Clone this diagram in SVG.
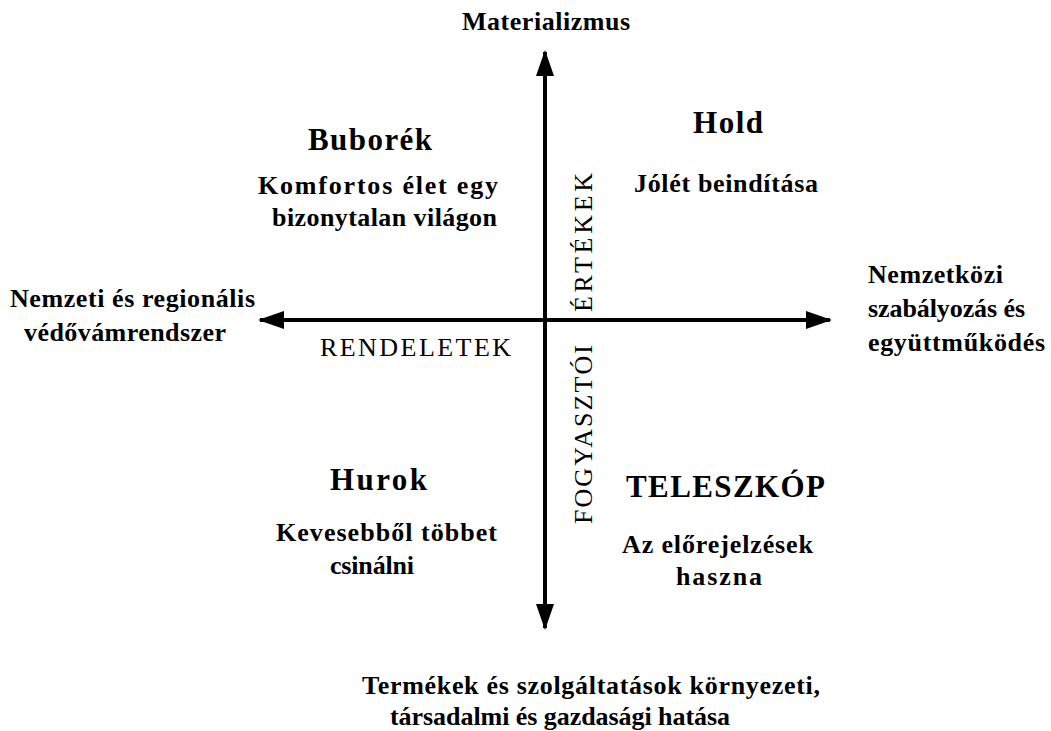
<svg xmlns="http://www.w3.org/2000/svg" width="1051" height="731" viewBox="0 0 1051 731">
<defs>
<style>
text{font-family:"Liberation Serif","Times New Roman",serif;fill:#000}
.t{font-size:31px;font-weight:bold}
.b{font-size:26px;font-weight:bold}
.a{font-size:26px}
.ax{stroke:#000;stroke-width:4;fill:none}
</style>
<marker id="ah" viewBox="0 0 26 18" refX="24" refY="9" markerWidth="26" markerHeight="18" markerUnits="userSpaceOnUse" orient="auto">
<path d="M0,0 L26,9 L0,18 Z" fill="#000"/>
</marker>
</defs>
<rect width="1051" height="731" fill="#fff"/>
<g id="connectors">
<line class="ax" x1="545" y1="330" x2="545" y2="52" marker-end="url(#ah)"/>
<line class="ax" x1="545" y1="310" x2="545" y2="628" marker-end="url(#ah)"/>
<line class="ax" x1="555" y1="320" x2="260" y2="320" marker-end="url(#ah)"/>
<line class="ax" x1="535" y1="320" x2="830" y2="320" marker-end="url(#ah)"/>
</g>
<g id="top-label"><text class="b" x="462" y="30" textLength="168">Materializmus</text></g>
<g id="bottom-label">
<text class="b" x="362" y="694" textLength="458">Termékek és szolgáltatások környezeti,</text>
<text class="b" x="390" y="725" textLength="340">társadalmi és gazdasági hatása</text>
</g>
<g id="left-label">
<text class="b" x="10" y="307" textLength="245">Nemzeti és regionális</text>
<text class="b" x="24" y="341" textLength="202">védővámrendszer</text>
</g>
<g id="right-label">
<text class="b" x="868" y="283" textLength="135">Nemzetközi</text>
<text class="b" x="868" y="317" textLength="157">szabályozás és</text>
<text class="b" x="868" y="351" textLength="177">együttműködés</text>
</g>
<g id="axis-rendeletek"><text class="a" x="320" y="356" textLength="191">RENDELETEK</text></g>
<g id="axis-ertekek"><text class="a" transform="translate(592,312) rotate(-90)" x="0" y="0" textLength="139">ÉRTÉKEK</text></g>
<g id="axis-fogyasztoi"><text class="a" transform="translate(592,524) rotate(-90)" x="0" y="0" textLength="179">FOGYASZTÓI</text></g>
<g id="buborek">
<text class="t" x="308" y="150" textLength="124">Buborék</text>
<text class="b" x="258" y="194" textLength="240">Komfortos élet egy</text>
<text class="b" x="272" y="226" textLength="225">bizonytalan világon</text>
</g>
<g id="hold">
<text class="t" x="693" y="133" textLength="70">Hold</text>
<text class="b" x="634" y="192" textLength="184">Jólét beindítása</text>
</g>
<g id="hurok">
<text class="t" x="330" y="490" textLength="97">Hurok</text>
<text class="b" x="276" y="541" textLength="221">Kevesebből többet</text>
<text class="b" x="330" y="574" textLength="84">csinálni</text>
</g>
<g id="teleszkop">
<text class="t" x="626" y="497" textLength="199">TELESZKÓP</text>
<text class="b" x="622" y="553" textLength="191">Az előrejelzések</text>
<text class="b" x="676" y="585" textLength="86">haszna</text>
</g>
</svg>
